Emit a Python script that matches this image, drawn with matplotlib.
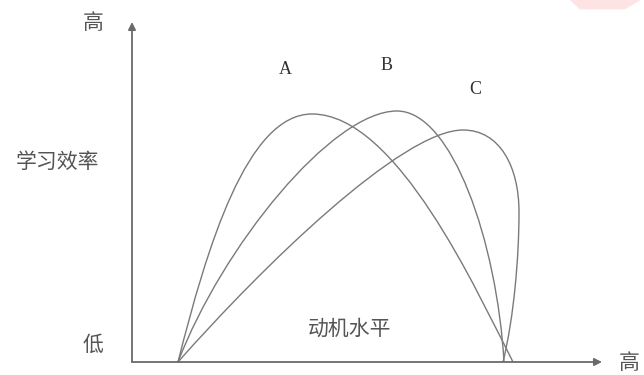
import matplotlib.pyplot as plt
from matplotlib.path import Path
from matplotlib.patches import PathPatch, Polygon

plt.rcParams['font.family'] = ['Noto Sans CJK SC', 'DejaVu Sans']

# Curve control points (motivation level, learning efficiency).
# Each curve is a chain of cubic Bezier segments: start, then (ctrl1, ctrl2, end) triples.
curve_a = [(46, 0),
           (75, 115), (115, 248), (180, 248),
           (265, 248), (345, 70), (381, 0)]
curve_b = [(46, 0),
           (90, 115), (200, 251), (265, 251),
           (320, 251), (365, 120), (372, 0)]
curve_c = [(46, 0),
           (130, 95), (270, 232), (331, 232),
           (368, 232), (387, 195), (387, 150),
           (387, 105), (382, 45), (371, 0)]
curve_labels = ['A', 'B', 'C']
label_pos = [(153, 292), (255, 297), (343, 273)]

x_axis_len = 470
y_axis_len = 340
y_label = '学习效率'
x_label = '动机水平'
high_text = '高'
low_text = '低'

line_color = '#7a7a7a'

fig = plt.figure(figsize=(6.44, 3.75), dpi=100)
ax = fig.add_axes([0, 0, 1, 1])
ax.set_xlim(-132, 512)
ax.set_ylim(-13, 362)
ax.axis('off')


def bezier_path(points):
    codes = [Path.MOVETO] + [Path.CURVE4] * (len(points) - 1)
    return Path(points, codes)


for pts in [curve_a, curve_b, curve_c]:
    ax.add_patch(PathPatch(bezier_path(pts), facecolor='none',
                           edgecolor=line_color, lw=1.0))

# axes with arrows
arrow = dict(arrowstyle='-|>', color='#6a6a6a', lw=1.3, mutation_scale=11,
             shrinkA=0, shrinkB=0)
ax.annotate('', xy=(0, y_axis_len), xytext=(0, 0), arrowprops=arrow)
ax.annotate('', xy=(x_axis_len, 0), xytext=(0, 0), arrowprops=arrow)

for lab, (lx, ly) in zip(curve_labels, label_pos):
    ax.text(lx, ly, lab, fontsize=13, family='Liberation Serif',
            color='#333333', ha='center', va='center')

txt = dict(fontsize=15, color='#555555', ha='center', va='center')
ax.text(-39, 339, high_text, **txt)
ax.text(-75, 200, y_label, **txt)
ax.text(-39, 17, low_text, **txt)
ax.text(218, 33, x_label, **txt)
ax.text(497, -1, high_text, **txt)

# faint pink watermark corner at the top right
fig.patches.append(Polygon([(0.885, 1.0), (0.995, 1.0), (0.97, 0.975), (0.9, 0.975)],
                           closed=True, transform=fig.transFigure,
                           facecolor='#fde3e3', edgecolor='none'))

fig.savefig('out.png', dpi=100)
